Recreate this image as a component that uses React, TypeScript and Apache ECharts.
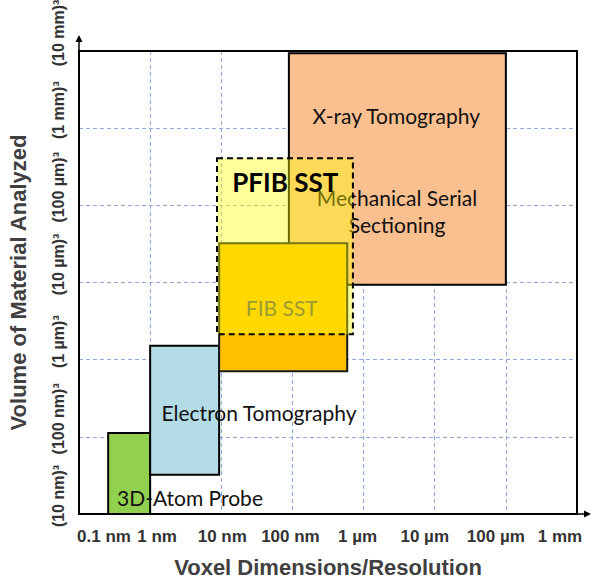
import React, { useEffect, useRef } from "react";
import * as echarts from "echarts";

// Axis ticks: log10 of length in metres
const xTickValues = [-10, -9, -8, -7, -6, -5, -4, -3];
const xTickLabels = ["0.1 nm", "1 nm", "10 nm", "100 nm", "1 µm", "10 µm", "100 µm", "1 mm"];
const yTickValues = [-8, -7, -6, -5, -4, -3, -2];
const yTickLabels = ["(10 nm)³", "(100 nm)³", "(1 µm)³", "(10 µm)³", "(100 µm)³", "(1 mm)³", "(10 mm)³"];

// Technique boxes (log10 resolution range, log10 edge of analysed volume range)
const techniques = ["3D-Atom Probe", "Electron Tomography", "X-ray Tomography / Mechanical Serial Sectioning", "FIB SST", "PFIB SST"];
const resMin = [-9.59, -9.0, -7.05, -8.03, -8.06];
const resMax = [-9.0, -8.03, -4.0, -6.23, -6.15];
const volMin = [-8.0, -7.49, -5.03, -6.15, -5.67];
const volMax = [-6.95, -5.82, -2.03, -4.49, -3.39];

// Annotation texts (anchored in data coordinates) and the box they belong to
const labelText = ["3D-Atom Probe", "Electron Tomography", "X-ray Tomography", "Mechanical Serial\nSectioning", "FIB SST", "PFIB SST"];
const labelX = [-8.44, -7.47, -5.54, -5.53, -7.15, -7.1];
const labelY = [-7.78, -6.68, -2.84, -4.07, -5.33, -3.7];
const labelOwner = [0, 1, 2, 2, 3, 4];

const boxStyles = [
  { fill: "#92D050", stroke: "#000", lineWidth: 2, dash: null },
  { fill: "#B4DCE6", stroke: "#000", lineWidth: 2, dash: null },
  { fill: "#FAC090", stroke: "#000", lineWidth: 2, dash: null },
  { fill: "#FFC000", stroke: "#1a1a1a", lineWidth: 2, dash: null },
  { fill: "rgba(255,255,0,0.4)", stroke: "#000", lineWidth: 2, dash: [6, 4] },
];
const labelStyles = [
  { fill: "#111", size: 21, weight: "normal" },
  { fill: "#111", size: 21, weight: "normal" },
  { fill: "#111", size: 21, weight: "normal" },
  { fill: "#111", size: 21, weight: "normal" },
  { fill: "#595959", size: 21, weight: "normal" },
  { fill: "#000", size: 26, weight: "bold" },
];
const boxFont = "Lato";
const xNudge = [25, 7, 1, -2, -6, -10, -10, -17];

export default function App() {
  const ref = useRef<HTMLDivElement>(null);
  useEffect(() => {
    if (!ref.current) return;
    const chart = echarts.init(ref.current, null, { renderer: "svg" });
    const rich: any = {};
    xNudge.forEach((n, i) => {
      rich["n" + i] = {
        fontFamily: "Liberation Sans",
        fontWeight: "bold",
        fontSize: 17,
        color: "#333",
        padding: n >= 0 ? [0, 0, 0, 2 * n] : [0, -2 * n, 0, 0],
      };
    });
    const renderItem = (params: any, api: any) => {
      const i = params.dataIndex;
      const p0 = api.coord([api.value(0), api.value(3)]);
      const p1 = api.coord([api.value(1), api.value(2)]);
      const st = boxStyles[i];
      const children: any[] = [
        {
          type: "rect",
          shape: { x: p0[0], y: p0[1], width: p1[0] - p0[0], height: p1[1] - p0[1] },
          style: { fill: st.fill, stroke: st.stroke, lineWidth: st.lineWidth, lineDash: st.dash || undefined },
        },
      ];
      labelText.forEach((t, j) => {
        if (labelOwner[j] !== i) return;
        const c = api.coord([labelX[j], labelY[j]]);
        const ls = labelStyles[j];
        children.push({
          type: "text",
          x: c[0],
          y: c[1],
          style: {
            text: t,
            fill: ls.fill,
            fontSize: ls.size,
            fontWeight: ls.weight,
            fontFamily: boxFont,
            align: "center",
            verticalAlign: "middle",
            lineHeight: 27,
          },
        });
      });
      return { type: "group", children };
    };
    const split = { show: true, showMinLine: false, showMaxLine: false, lineStyle: { color: "#8FAADC", width: 1, type: [4, 3] } };
    chart.setOption({
      animation: false,
      grid: { left: 79, right: 28, top: 51, bottom: 67, show: false, containLabel: false, outerBoundsMode: "none" },
      xAxis: {
        type: "value",
        min: -10,
        max: -3,
        interval: 1,
        name: "Voxel Dimensions/Resolution",
        nameLocation: "middle",
        nameGap: 42,
        nameTextStyle: { fontFamily: "Liberation Sans", fontWeight: "bold", fontSize: 22, color: "#404040" },
        axisLine: { show: false },
        axisTick: { show: false },
        axisLabel: {
          margin: 14,
          fontSize: 17,
          fontWeight: "bold",
          fontFamily: "Liberation Sans",
          formatter: (v: number) => {
            const i = xTickValues.indexOf(Math.round(v));
            return i < 0 ? "" : `{n${i}|${xTickLabels[i]}}`;
          },
          rich,
        },
        splitLine: split,
      },
      yAxis: {
        type: "value",
        min: -8,
        max: -2,
        interval: 1,
        name: "Volume of Material Analyzed",
        nameLocation: "middle",
        nameGap: 50,
        nameRotate: 90,
        nameTextStyle: { fontFamily: "Liberation Sans", fontWeight: "bold", fontSize: 22, color: "#404040" },
        axisLine: { show: false },
        axisTick: { show: false },
        axisLabel: { show: false },
        splitLine: split,
      },
      series: [
        {
          type: "custom",
          renderItem,
          encode: { x: [0, 1], y: [2, 3] },
          data: techniques.map((name, i) => ({ name, value: [resMin[i], resMax[i], volMin[i], volMax[i]] })),
          z: 5,
        },
      ],
    });
    const tl = chart.convertToPixel({ gridIndex: 0 }, [-10, -2]) as number[];
    const br = chart.convertToPixel({ gridIndex: 0 }, [-3, -8]) as number[];
    const yLabelEls = yTickValues.map((v, i) => {
      const py = chart.convertToPixel({ yAxisIndex: 0 }, v) as number;
      return {
        type: "text",
        x: tl[0] - 21,
        y: py - 18,
        rotation: Math.PI / 2,
        style: {
          text: yTickLabels[i],
          fontFamily: "Liberation Sans",
          fontWeight: "bold",
          fontSize: 16,
          fill: "#333",
          align: "center",
          verticalAlign: "middle",
        },
        z: 10,
      };
    });
    chart.setOption({
      graphic: [
        { type: "rect", shape: { x: tl[0], y: tl[1], width: br[0] - tl[0], height: br[1] - tl[1] }, style: { fill: "none", stroke: "#000", lineWidth: 2 }, z: 1 },
        { type: "line", shape: { x1: tl[0], y1: tl[1], x2: tl[0], y2: tl[1] - 10 }, style: { stroke: "#000", lineWidth: 1.5 }, z: 10 },
        { type: "polygon", shape: { points: [[tl[0] - 3.5, tl[1] - 9], [tl[0], tl[1] - 16], [tl[0] + 3.5, tl[1] - 9]] }, style: { fill: "#000" }, z: 10 },
        { type: "line", shape: { x1: br[0], y1: br[1], x2: br[0] + 8, y2: br[1] }, style: { stroke: "#000", lineWidth: 1.5 }, z: 10 },
        { type: "polygon", shape: { points: [[br[0] + 7, br[1] - 3.5], [br[0] + 14, br[1]], [br[0] + 7, br[1] + 3.5]] }, style: { fill: "#000" }, z: 10 },
        ...yLabelEls,
      ],
    });
    return () => chart.dispose();
  }, []);
  return <div ref={ref} style={{ position: "fixed", left: 0, top: 0, width: 605, height: 581, background: "#fff" }} />;
}
